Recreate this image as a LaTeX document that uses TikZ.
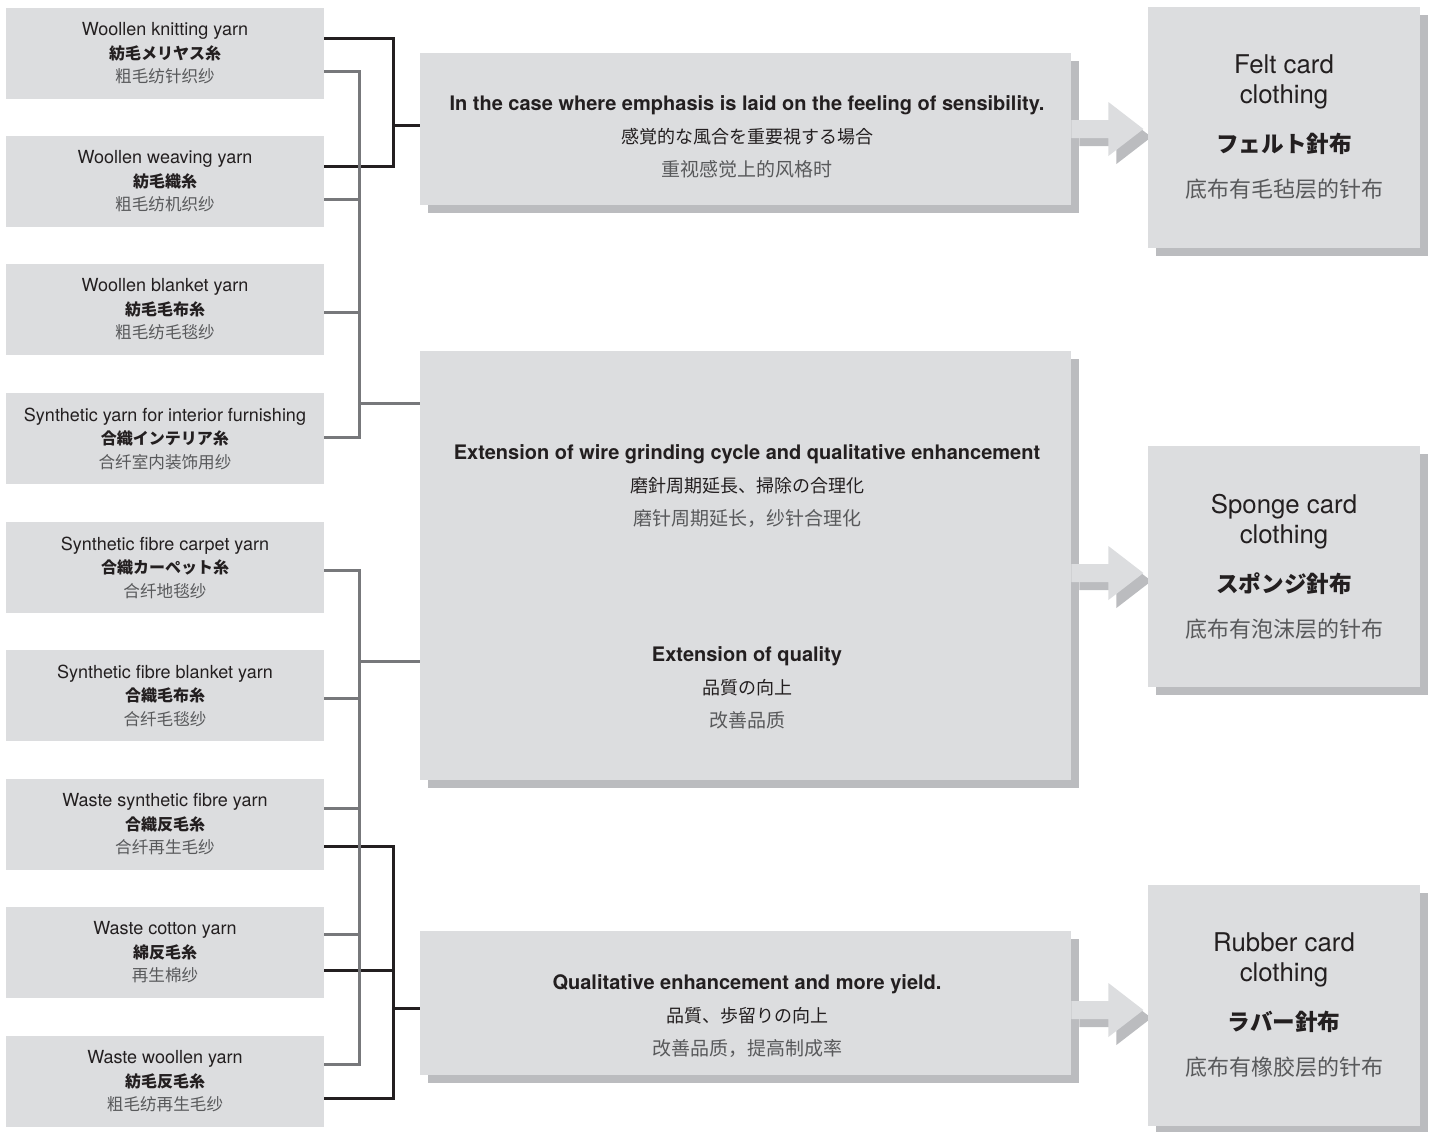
\documentclass[tikz,border=0pt]{standalone}
\usepackage{fontspec}
\setmainfont{TeX Gyre Heros}
\newfontfamily\jpfont{Noto Sans CJK JP}
\newfontfamily\cnfont{Noto Sans CJK SC}
\usetikzlibrary{shadows}
\pgfdeclarelayer{background}
\pgfsetlayers{background,main}

\definecolor{boxgray}{RGB}{220,221,223}
\definecolor{shadegray}{RGB}{187,188,191}
\definecolor{inkblack}{RGB}{35,31,32}
\definecolor{wiregray}{RGB}{119,120,123}
\definecolor{cngray}{RGB}{88,89,91}

% three-language text of one yarn box
\newcommand{\yarn}[3]{#1\\{\jpfont\bfseries\fontsize{8}{11.75}\selectfont #2}\\{\cnfont\color{cngray}\fontsize{8.3}{11.75}\selectfont #3}}
\newcommand{\case}[3]{#1\\{\jpfont\mdseries\fontsize{9}{16.5}\selectfont #2}\\{\cnfont\mdseries\color{cngray}\fontsize{9.5}{16.5}\selectfont #3}}
\newcommand{\card}[4]{#1\\#2\\[9.5pt]{\jpfont\bfseries\fontsize{11.3}{15}\selectfont #3}\\[7.5pt]{\cnfont\color{cngray}\fontsize{11}{15}\selectfont #4}}

\tikzset{
  yarnbox/.style={fill=boxgray, minimum width=159pt, minimum height=45.5pt, inner sep=0pt,
    align=center, text=inkblack, font=\fontsize{9}{11.75}\selectfont},
  casebox/.style={fill=boxgray, minimum width=325.5pt, inner sep=0pt,
    drop shadow={shadow xshift=4pt, shadow yshift=-4pt, opacity=1, fill=shadegray}},
  casetext/.style={align=center, text=inkblack, font=\fontsize{10}{16.5}\selectfont\bfseries},
  cardbox/.style={fill=boxgray, minimum width=136pt, minimum height=120.5pt, inner sep=0pt,
    align=center, text=inkblack, font=\fontsize{12.9}{15}\selectfont,
    drop shadow={shadow xshift=4pt, shadow yshift=-4pt, opacity=1, fill=shadegray}},
  inkline/.style={draw=inkblack, line width=1.5pt},
  wireline/.style={draw=wiregray, line width=1.5pt},
}

\begin{document}
\begin{tikzpicture}[x=0.5pt, y=-0.5pt]
\useasboundingbox (0,0) rectangle (1434,1131);

% yarns (left column)
\node[yarnbox] (y1) at (165,53.5)   {\yarn{Woollen knitting yarn}{紡毛メリヤス糸}{粗毛纺针织纱}};
\node[yarnbox] (y2) at (165,181.5)  {\yarn{Woollen weaving yarn}{紡毛織糸}{粗毛纺机织纱}};
\node[yarnbox] (y3) at (165,309.5)  {\yarn{Woollen blanket yarn}{紡毛毛布糸}{粗毛纺毛毯纱}};
\node[yarnbox] (y4) at (165,438.5)  {\yarn{Synthetic yarn for interior furnishing}{合織インテリア糸}{合纤室内装饰用纱}};
\node[yarnbox] (y5) at (165,567.5)  {\yarn{Synthetic fibre carpet yarn}{合織カーペット糸}{合纤地毯纱}};
\node[yarnbox] (y6) at (165,695.5)  {\yarn{Synthetic fibre blanket yarn}{合織毛布糸}{合纤毛毯纱}};
\node[yarnbox] (y7) at (165,824.5)  {\yarn{Waste synthetic fibre yarn}{合織反毛糸}{合纤再生毛纱}};
\node[yarnbox] (y8) at (165,952.5)  {\yarn{Waste cotton yarn}{綿反毛糸}{再生棉纱}};
\node[yarnbox] (y9) at (165,1081.5) {\yarn{Waste woollen yarn}{紡毛反毛糸}{粗毛纺再生毛纱}};

% cases (middle column)
\node[casebox, minimum height=76pt]    (m1) at (745.5,129) {};
\node[casebox, minimum height=214.5pt] (m2) at (745.5,565.5) {};
\node[casebox, minimum height=72pt]    (m3) at (745.5,1003) {};
\node[casetext] (m1t) at (747,137)
  {\case{In the case where emphasis is laid on the feeling of sensibility.}{感覚的な風合を重要視する場合}{重视感觉上的风格时}};
\node[casetext] (m2t) at (747,486)
  {\case{Extension of wire grinding cycle and qualitative enhancement}{磨針周期延長、掃除の合理化}{磨针周期延长，纱针合理化}};
\node[casetext] (m2b) at (747,688)
  {\case{Extension of quality}{品質の向上}{改善品质}};
\node[casetext] (m3t) at (747,1016)
  {\case{Qualitative enhancement and more yield.}{品質、歩留りの向上}{改善品质，提高制成率}};

% card clothings (right column)
\node[cardbox] (r1) at (1284,127.5)  {\card{Felt card}{clothing}{フェルト針布}{底布有毛毡层的针布}};
\node[cardbox] (r2) at (1284,566.5)  {\card{Sponge card}{clothing}{スポンジ針布}{底布有泡沫层的针布}};
\node[cardbox] (r3) at (1284,1005.5) {\card{Rubber card}{clothing}{ラバー針布}{底布有橡胶层的针布}};

% black brackets
\draw[inkline] (y1.east |- 0,38.5) -| (393,166) -- (y2.east |- 0,166);
\draw[inkline] (393,125) -- (m1.west |- 0,125);
\draw[inkline] (y7.east |- 0,846) -| (393,1098) -- (y9.east |- 0,1098);
\draw[inkline] (y8.east |- 0,970) -- (393,970);
\draw[inkline] (393,1008) -- (m3.west |- 0,1008);

% grey brackets
\draw[wireline] (y1.east |- 0,71) -| (359,437) -- (y4.east |- 0,437);
\draw[wireline] (y2.east |- 0,199) -- (359,199);
\draw[wireline] (y3.east |- 0,312) -- (359,312);
\draw[wireline] (359,403) -- (m2.west |- 0,403);
\draw[wireline] (y5.east |- 0,570) -| (359,1064) -- (y9.east |- 0,1064);
\draw[wireline] (y6.east |- 0,698) -- (359,698);
\draw[wireline] (y7.east |- 0,808) -- (359,808);
\draw[wireline] (y8.east |- 0,934) -- (359,934);
\draw[wireline] (359,661) -- (m2.west |- 0,661);

% block arrows to the card boxes
\coordinate (a1) at (m1.east |- 0,129);
\coordinate (a2) at (m2.east |- 0,573);
\coordinate (a3) at (m3.east |- 0,1010);
\begin{pgfonlayer}{background}
\foreach \a in {a1,a2,a3}
  \fill[shadegray] ([shift={(8,8)}]\a) ++(0,-9) -- ++(37,0) -- ++(0,-18)
    -- ++(35,27) -- ++(-35,27) -- ++(0,-18) -- ++(-37,0) -- cycle;
\end{pgfonlayer}
\foreach \a in {a1,a2,a3}
  \fill[boxgray] (\a) ++(0,-9) -- ++(37,0) -- ++(0,-18)
    -- ++(35,27) -- ++(-35,27) -- ++(0,-18) -- ++(-37,0) -- cycle;
\end{tikzpicture}
\end{document}
